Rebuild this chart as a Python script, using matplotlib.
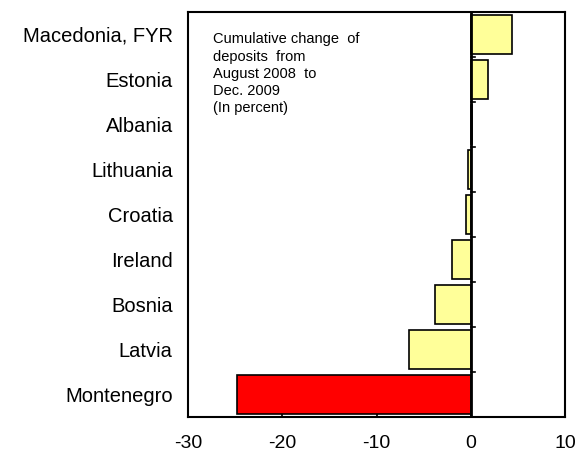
import matplotlib
matplotlib.use('Agg')
import matplotlib.pyplot as plt
import numpy as np

plt.rcParams['font.family'] = ['Liberation Sans', 'DejaVu Sans']
plt.rcParams['axes.unicode_minus'] = False

countries = ['Macedonia, FYR', 'Estonia', 'Albania', 'Lithuania', 'Croatia',
             'Ireland', 'Bosnia', 'Latvia', 'Montenegro']
change = [4.4, 1.8, 0.15, -0.3, -0.5, -2.0, -3.8, -6.6, -24.8]
colors = ['#ffff99'] * 8 + ['#ff0000']
xticks = [-30, -20, -10, 0, 10]

fig = plt.figure(figsize=(5.78, 4.55), dpi=100)
ax = fig.add_axes([188/578, 1 - 417/455, 377/578, 405/455])

pos = np.arange(len(countries))[::-1]
ax.barh(pos, change, height=0.85, color=colors, edgecolor='black', linewidth=1.2, zorder=2)

ax.set_xlim(-30, 10)
ax.set_ylim(-0.5, len(countries) - 0.5)
ax.set_xticks(xticks)
ax.tick_params(axis='x', direction='in', length=5, width=1.2, labelsize=14, pad=13)
ax.set_yticks(pos)
ax.set_yticklabels(countries, fontsize=14.5)
ax.tick_params(axis='y', length=0, pad=11)

# zero line with category boundary ticks
ax.axvline(0, color='black', linewidth=2, zorder=3)
for b in np.arange(0.5, len(countries) - 1, 1.0):
    ax.plot([0, 0.5], [b, b], color='black', linewidth=1.2, zorder=3)

for s in ax.spines.values():
    s.set_linewidth(1.5)

ax.text(-27.35, 8.05, 'Cumulative change  of\ndeposits  from\nAugust 2008  to\nDec. 2009\n(In percent)',
        fontsize=10.5, va='top', ha='left', linespacing=1.3)

fig.savefig('out.png', dpi=100)
